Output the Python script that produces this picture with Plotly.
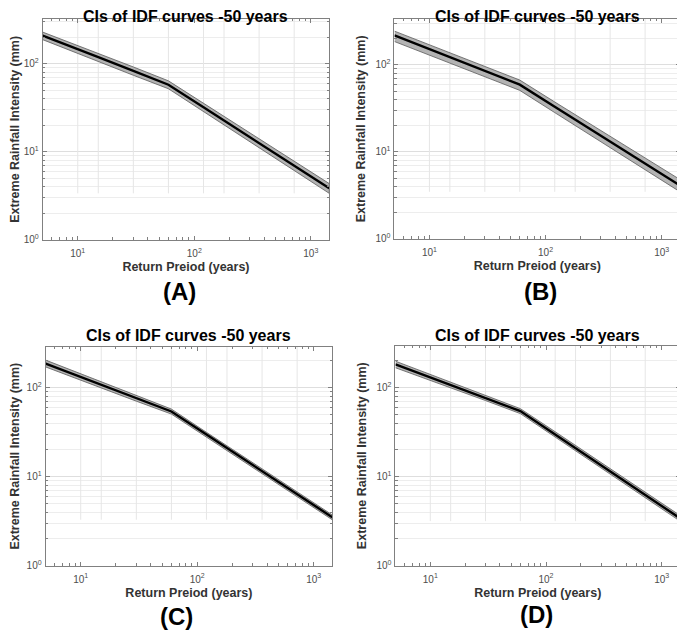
import numpy as np
import plotly.graph_objects as go

# durations (x) shared by all four panels
durations = [5, 10, 15, 30, 60, 120, 180, 360, 720, 1440]

# central IDF estimate and confidence bounds
mid_a = [209, 148, 119, 83, 57.8, 32, 22.6, 12.5, 6.94, 3.84]
up_a = [229, 162, 131, 92, 64, 35.5, 25.2, 14, 7.8, 4.35]
lo_a = [188, 132, 106, 74, 52, 28.7, 20.2, 11.1, 6.15, 3.37]

mid_b = [219, 152, 123, 85.5, 59.4, 33.1, 23.6, 13.2, 7.36, 4.1]
up_b = [245, 171, 138, 96, 67, 37.5, 26.8, 15.1, 8.5, 4.8]
lo_b = [186, 130, 105, 73, 51, 28.3, 20.1, 11.2, 6.2, 3.47]

mid_c = [186, 132, 107.5, 76, 54, 29.7, 21, 11.6, 6.37, 3.5]
up_c = [204, 143, 116, 81.5, 57.5, 31.5, 22.3, 12.3, 6.75, 3.72]
lo_c = [171, 122, 99.5, 70.5, 50.5, 27.8, 19.7, 10.9, 5.98, 3.28]

mid_d = [182, 130, 106.6, 76.2, 54.5, 29.8, 20.9, 11.4, 6.23, 3.4]
up_d = [198, 140, 114, 81, 58, 31.9, 22.4, 12.2, 6.68, 3.66]
lo_d = [167, 120, 99, 71.5, 51, 27.8, 19.5, 10.65, 5.81, 3.16]

panel_labels = ["(A)", "(B)", "(C)", "(D)"]
title_text = "CIs of IDF curves -50 years"
y_ticks = [1, 10, 100]
y_tick_text = ["10<sup>0</sup>", "10<sup>1</sup>", "10<sup>2</sup>"]
y_minor = [2, 3, 4, 5, 6, 7, 8, 9, 20, 30, 40, 50, 60, 70, 80, 90, 200, 300]
x_ticks = [10, 100, 1000]
x_tick_text = ["10<sup>1</sup>", "10<sup>2</sup>", "10<sup>3</sup>"]
x_minor = [6, 7, 8, 9, 20, 30, 40, 50, 60, 70, 80, 90, 200, 300, 400, 500, 600, 700, 800, 900]

# the page body adds an 8px margin, so the figure is sized to the window minus that
OFF = 8
W, H = 685 - OFF, 638 - OFF
FONT = "Liberation Sans, Arial, sans-serif"


def px(x):
    return (x - OFF) / W


def py(y):
    return 1 - (y - OFF) / H


# pixel boxes in window coords: (left, right, top, bottom), y-axis upper limit (log10),
# panel-label position, title y
panels = [
    dict(mid=mid_a, up=up_a, lo=lo_a, box=(35, 325, 19, 242), ytop=2.51, lab=(173, 294), ty=17),
    dict(mid=mid_b, up=up_b, lo=lo_b, box=(391, 680, 19, 241), ytop=2.53, lab=(539, 294), ty=17),
    dict(mid=mid_c, up=up_c, lo=lo_c, box=(38, 328, 350, 571), ytop=2.46, lab=(170, 622), ty=339),
    dict(mid=mid_d, up=up_d, lo=lo_d, box=(392, 680, 349, 571), ytop=2.47, lab=(535, 620), ty=339),
]

fig = go.Figure()
annotations = []

for i, p in enumerate(panels):
    n = "" if i == 0 else str(i + 1)
    xa, ya = "x" + n, "y" + n
    l, r, t, b = p["box"]

    # partial vertical grid (stops at the lowest bound, as in the source)
    gx, gy = [], []
    for d in durations[1:-1]:
        gx += [d, d, None]
        gy += [min(p["lo"]), 10 ** p["ytop"], None]
    fig.add_trace(go.Scatter(x=gx, y=gy, mode="lines", xaxis=xa, yaxis=ya,
                             line=dict(color="#e6e6e6", width=1),
                             hoverinfo="skip", showlegend=False))

    # confidence band as one closed polygon
    fig.add_trace(go.Scatter(x=durations + durations[::-1], y=p["up"] + p["lo"][::-1],
                             mode="lines", xaxis=xa, yaxis=ya, fill="toself",
                             fillcolor="#b3b3b3", line=dict(color="#5a5a5a", width=0.8),
                             showlegend=False))
    fig.add_trace(go.Scatter(x=durations, y=p["mid"], mode="lines", xaxis=xa, yaxis=ya,
                             line=dict(color="black", width=2.4), showlegend=False))

    axis_common = dict(
        type="log", showline=True, linecolor="#808080", linewidth=1,
        mirror="ticks", ticks="inside", ticklen=4, tickcolor="#808080",
        tickfont=dict(family=FONT, size=10, color="#4d4d4d"),
        zeroline=False, tickmode="array",
    )
    fig.layout["xaxis" + n] = dict(
        axis_common, domain=[px(l), px(r)], anchor=ya,
        range=[np.log10(5), np.log10(1440)],
        tickvals=x_ticks, ticktext=x_tick_text, showgrid=False, ticklabelstandoff=4,
        minor=dict(tickmode="array", tickvals=x_minor, ticks="inside", ticklen=2.5,
                   tickcolor="#808080", showgrid=False),
        title=dict(text="<b>Return Preiod (years)</b>", standoff=4,
                   font=dict(family=FONT, size=12.5, color="#333333")),
    )
    fig.layout["yaxis" + n] = dict(
        axis_common, domain=[py(b), py(t)], anchor=xa,
        range=[0, p["ytop"]],
        tickvals=y_ticks, ticktext=y_tick_text, ticklabelstandoff=1,
        showgrid=True, gridcolor="#dedede", gridwidth=1,
        minor=dict(tickmode="array", tickvals=y_minor, ticks="inside", ticklen=2.5,
                   tickcolor="#808080", showgrid=True, gridcolor="#ededed", gridwidth=1),
        title=dict(text="<b>Extreme Rainfall Intensity (mm)</b>", standoff=7,
                   font=dict(family=FONT, size=12.5, color="#333333")),
    )

    annotations.append(dict(text="<b>" + title_text + "</b>", x=px((l + r) / 2), y=py(p["ty"]),
                            xref="paper", yref="paper", showarrow=False,
                            xanchor="center", yanchor="middle",
                            font=dict(family=FONT, size=16, color="black")))
    annotations.append(dict(text="<b>" + panel_labels[i] + "</b>", x=px(p["lab"][0]),
                            y=py(p["lab"][1]), xref="paper", yref="paper", showarrow=False,
                            xanchor="center", yanchor="middle", borderpad=0,
                            font=dict(family=FONT, size=24, color="black")))

fig.update_layout(
    width=W, height=H,
    margin=dict(l=0, r=0, t=0, b=0),
    paper_bgcolor="white", plot_bgcolor="white",
    annotations=annotations,
    showlegend=False,
)

fig.write_html("out.html")
